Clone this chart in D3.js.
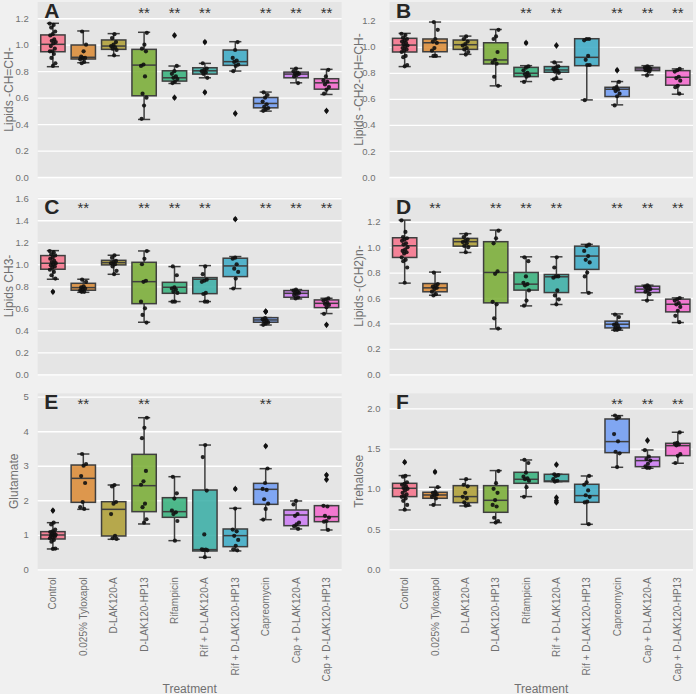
<!DOCTYPE html>
<html><head><meta charset="utf-8">
<script src="https://cdn.jsdelivr.net/npm/d3@7"></script>
<style>body{margin:0;background:#f0f0f0}svg{display:block}</style>
</head><body><svg id="c" width="696" height="694"></svg>
<script>
const categories = ["Control","0.025% Tyloxapol","D-LAK120-A","D-LAK120-HP13","Rifampicin","Rif + D-LAK120-A","Rif + D-LAK120-HP13","Capreomycin","Cap + D-LAK120-A","Cap + D-LAK120-HP13"];
const palette = ["#f77189","#dc8932","#ae9d31","#77ab31","#33b07a","#36ada4","#38a9c5","#6e9bf4","#cc7af4","#f565cc"];

// box stats per group: [whiskerLow, q1, median, q3, whiskerHigh]
const boxA = [[0.834,0.947,1.003,1.074,1.162],[0.864,0.892,0.905,0.998,1.104],[0.917,0.965,0.990,1.036,1.084],[0.435,0.614,0.846,0.965,1.094],[0.707,0.725,0.750,0.803,0.839],[0.750,0.778,0.803,0.826,0.859],[0.801,0.844,0.872,0.960,1.023],[0.498,0.523,0.556,0.601,0.642],[0.712,0.750,0.778,0.793,0.821],[0.624,0.664,0.712,0.743,0.814]];
const pointsA = [[1.16,1.15,1.13,1.10,1.08,1.07,1.04,1.03,1.02,1.01,0.99,0.97,0.95,0.95,0.93,0.90,0.86,0.84],[1.10,1.00,0.95,0.91,0.90,0.90,0.89,0.87,0.86],[1.08,1.05,1.02,1.00,0.99,0.98,0.97,0.96,0.92],[1.09,1.00,0.97,0.95,0.85,0.84,0.76,0.63,0.60,0.54,0.44],[1.07,0.84,0.80,0.78,0.76,0.75,0.74,0.72,0.71,0.60],[1.02,0.86,0.82,0.81,0.80,0.79,0.78,0.75,0.64],[1.02,0.96,0.90,0.88,0.87,0.85,0.84,0.80,0.48],[0.64,0.62,0.60,0.57,0.55,0.53,0.52,0.51,0.50],[0.82,0.80,0.79,0.78,0.78,0.77,0.76,0.71],[0.81,0.76,0.73,0.72,0.70,0.68,0.66,0.63,0.50]];
const sigA = [3,4,5,7,8,9];

const boxB = [[0.848,0.960,1.013,1.065,1.103],[0.924,0.962,1.031,1.060,1.19],[0.942,0.980,1.016,1.052,1.082],[0.70,0.868,0.899,1.031,1.133],[0.733,0.771,0.797,0.842,0.855],[0.751,0.804,0.822,0.848,0.883],[0.592,0.855,0.919,1.062,1.062],[0.554,0.618,0.674,0.689,0.733],[0.784,0.817,0.830,0.842,0.855],[0.636,0.705,0.766,0.817,0.830]];
const pointsB = [[1.10,1.09,1.07,1.06,1.05,1.04,1.03,1.02,1.01,1.00,0.99,0.98,0.97,0.96,0.93,0.92,0.86,0.85],[1.19,1.13,1.06,1.04,1.03,0.99,0.97,0.93,0.93],[1.08,1.06,1.04,1.02,1.01,0.99,0.98,0.96,0.94],[1.13,1.08,1.06,0.96,0.90,0.88,0.87,0.77,0.70],[1.03,0.85,0.84,0.82,0.80,0.79,0.78,0.77,0.73],[1.01,0.88,0.85,0.84,0.83,0.82,0.81,0.80,0.76,0.75],[1.06,1.06,1.05,0.93,0.90,0.86,0.86,0.59],[0.82,0.73,0.69,0.68,0.67,0.66,0.64,0.62,0.55],[0.85,0.84,0.84,0.83,0.83,0.82,0.82,0.81,0.78],[0.83,0.82,0.81,0.77,0.76,0.74,0.70,0.69,0.64]];
const sigB = [4,5,7,8,9];

const boxC = [[0.864,0.955,1.009,1.079,1.124],[0.745,0.764,0.788,0.827,0.864],[0.909,0.994,1.015,1.036,1.082],[0.473,0.642,0.842,1.018,1.121],[0.661,0.736,0.791,0.836,0.979],[0.661,0.733,0.864,0.879,0.988],[0.779,0.888,0.985,1.055,1.07],[0.448,0.473,0.494,0.515,0.515],[0.685,0.70,0.736,0.761,0.770],[0.552,0.606,0.645,0.676,0.691]];
const pointsC = [[1.12,1.11,1.09,1.08,1.06,1.05,1.03,1.02,1.01,1.00,0.99,0.98,0.97,0.95,0.93,0.90,0.87,0.75],[0.86,0.84,0.80,0.79,0.78,0.77,0.76,0.75,0.75],[1.08,1.06,1.03,1.02,1.01,1.00,0.98,0.94,0.91],[1.12,1.05,1.00,0.85,0.84,0.66,0.60,0.54,0.47],[0.98,0.90,0.79,0.78,0.77,0.75,0.74,0.66,0.66],[0.98,0.91,0.86,0.85,0.84,0.74,0.73,0.66,0.66],[1.41,1.06,1.05,1.00,0.96,0.93,0.87,0.78],[0.57,0.57,0.51,0.50,0.49,0.48,0.47,0.46,0.45],[0.77,0.76,0.75,0.74,0.74,0.73,0.72,0.70,0.69],[0.69,0.68,0.67,0.65,0.64,0.63,0.61,0.55,0.45]];
const sigC = [1,3,4,5,7,8,9];

const boxD = [[0.717,0.919,1.011,1.074,1.213],[0.622,0.649,0.680,0.714,0.804],[0.958,1.008,1.043,1.069,1.106],[0.357,0.562,0.801,1.043,1.134],[0.538,0.662,0.709,0.801,0.924],[0.549,0.643,0.767,0.785,0.924],[0.641,0.825,0.93,1.008,1.022],[0.347,0.365,0.394,0.418,0.475],[0.583,0.643,0.670,0.693,0.701],[0.407,0.491,0.551,0.591,0.601]];
const pointsD = [[1.21,1.12,1.08,1.07,1.06,1.05,1.03,1.02,1.00,0.98,0.97,0.96,0.95,0.92,0.90,0.89,0.84,0.72],[0.80,0.71,0.70,0.69,0.68,0.67,0.65,0.63,0.62],[1.10,1.08,1.06,1.05,1.04,1.03,1.01,1.00,0.96],[1.13,1.07,1.03,0.81,0.79,0.57,0.55,0.44,0.36],[0.92,0.89,0.77,0.72,0.71,0.70,0.66,0.58,0.54],[0.92,0.84,0.77,0.77,0.76,0.66,0.62,0.59,0.55],[1.02,1.01,0.97,0.93,0.90,0.88,0.80,0.77,0.64],[0.47,0.45,0.40,0.39,0.38,0.37,0.36,0.35,0.35],[0.70,0.69,0.69,0.68,0.67,0.66,0.65,0.63,0.58],[0.60,0.59,0.58,0.56,0.55,0.53,0.50,0.46,0.41]];
const sigD = [1,3,4,5,7,8,9];

const boxE = [[0.589,0.878,0.994,1.091,1.351],[1.737,1.94,2.635,3.021,3.34],[0.869,0.965,1.737,1.959,2.442],[1.313,1.67,2.423,3.33,4.392],[0.83,1.506,1.67,2.075,2.683],[0.347,0.531,0.57,2.297,3.6],[0.531,0.656,0.975,1.168,1.766],[1.438,1.882,2.317,2.49,2.915],[1.168,1.264,1.573,1.718,1.979],[1.139,1.38,1.525,1.844,1.844]];
const pointsE = [[1.70,1.35,1.30,1.15,1.10,1.08,1.05,1.02,1.00,0.99,0.97,0.95,0.92,0.90,0.85,0.80,0.60,0.59],[3.34,3.05,3.00,2.70,2.50,1.95,1.80,1.75],[2.44,2.40,1.95,1.90,1.60,0.97,0.90,0.88],[4.39,4.10,3.80,2.85,2.55,2.45,1.90,1.80,1.45,1.35],[2.68,2.20,2.05,1.70,1.65,1.60,1.40,0.83],[3.60,3.25,2.28,1.01,0.58,0.57,0.56,0.55,0.35],[2.33,1.76,1.15,1.10,0.97,0.85,0.68,0.58,0.55],[3.57,2.92,2.50,2.33,2.30,2.03,1.90,1.75,1.44],[1.98,1.88,1.60,1.55,1.35,1.30,1.25,1.17],[2.73,2.60,1.84,1.82,1.55,1.50,1.40,1.38,1.14]];
const sigE = [1,3,7];

const boxF = [[0.737,0.903,1.006,1.068,1.164],[0.799,0.882,0.923,0.957,1.019],[0.787,0.828,0.903,1.039,1.118],[0.58,0.708,0.857,1.039,1.226],[0.903,1.068,1.118,1.205,1.358],[1.089,1.089,1.097,1.18,1.18],[0.559,0.832,0.915,1.056,1.159],[1.267,1.449,1.586,1.867,1.909],[1.255,1.275,1.35,1.395,1.482],[1.317,1.412,1.536,1.565,1.702]];
const pointsF = [[1.33,1.16,1.15,1.08,1.06,1.05,1.03,1.01,1.00,0.98,0.95,0.93,0.91,0.90,0.88,0.85,0.80,0.74],[1.21,1.02,0.96,0.95,0.93,0.92,0.90,0.88,0.80],[1.12,1.05,1.03,0.95,0.90,0.88,0.83,0.80,0.79],[1.22,1.07,1.00,0.95,0.86,0.80,0.78,0.64,0.60,0.58],[1.36,1.32,1.20,1.15,1.13,1.12,1.10,1.02,0.90],[1.30,1.18,1.17,1.16,1.12,1.10,1.09,0.89,0.85,0.83],[1.16,1.08,1.05,0.98,0.92,0.90,0.84,0.83,0.56],[1.91,1.89,1.87,1.68,1.59,1.46,1.44,1.27],[1.60,1.48,1.40,1.37,1.35,1.31,1.28,1.26,1.26],[1.70,1.57,1.56,1.55,1.54,1.43,1.41,1.32]];
const sigF = [7,8,9];

const letters = ["A","B","C","D","E","F"];
const yLabels = ["Lipids -CH=CH-","Lipids -CH2-CH=CH-","Lipids CH3-","Lipids -(CH2)n-","Glutamate","Trehalose"];
const yMax = [1.323,1.344,1.605,1.389,5.099,2.186];
const yTicks = [[0,0.2,0.4,0.6,0.8,1.0,1.2],[0,0.2,0.4,0.6,0.8,1.0,1.2],[0,0.2,0.4,0.6,0.8,1.0,1.2,1.4,1.6],[0,0.2,0.4,0.6,0.8,1.0,1.2],[0,1,2,3,4,5],[0,0.5,1.0,1.5,2.0]];
const yFormats = [".1f",".1f",".1f",".1f","d",".1f"];
const xLabel = "Treatment";

const boxes = [boxA,boxB,boxC,boxD,boxE,boxF];
const points = [pointsA,pointsB,pointsC,pointsD,pointsE,pointsF];
const sigs = [sigA,sigB,sigC,sigD,sigE,sigF];

// layout
const colX = [[37.7,341.7],[389.5,693]];
const rowY = [[2,177],[197.7,374.3],[393.3,569.3]];
const yLabX = [8.5,358.5,8.5,359,14,359];
const tickRight = [null,375.5,null,null,null,null];

const svg = d3.select("#c");
const font = "'Liberation Sans', Arial, sans-serif";
const edge = "#3f3f3f";
const textGray = "#707070";

for (let p = 0; p < 6; p++) {
  const col = p % 2, row = Math.floor(p / 2);
  const [x0, x1] = colX[col];
  const [y0, y1] = rowY[row];
  const x = d3.scaleBand().domain(categories).range([x0, x1]).padding(0);
  const y = d3.scaleLinear().domain([0, yMax[p]]).range([y1, y0]);
  const g = svg.append("g");

  g.append("rect").attr("x", x0).attr("y", y0).attr("width", x1 - x0).attr("height", y1 - y0).attr("fill", "#e5e5e5");

  // grid
  const grid = g.append("g").attr("transform", `translate(${x0},0)`)
    .call(d3.axisLeft(y).tickValues(yTicks[p]).tickSize(-(x1 - x0)).tickFormat(""));
  grid.select(".domain").remove();
  grid.selectAll("line").attr("stroke", "#ffffff").attr("stroke-width", 1.3);

  // y axis labels
  const padL = tickRight[p] != null ? (x0 - tickRight[p]) : 9;
  const ya = g.append("g").attr("transform", `translate(${x0},0)`)
    .call(d3.axisLeft(y).tickValues(yTicks[p]).tickSize(0).tickPadding(padL).tickFormat(d3.format(yFormats[p])));
  ya.select(".domain").remove();
  ya.selectAll("text").attr("fill", textGray).style("font-family", font).style("font-size", "9.5px");

  g.append("text").attr("transform", `translate(${yLabX[p]},${(y0 + y1) / 2}) rotate(-90)`)
    .attr("text-anchor", "middle").attr("dominant-baseline", "central")
    .attr("fill", textGray).style("font-family", font).style("font-size", "12px").text(yLabels[p]);

  const bw = x.bandwidth() * 0.8;
  const tol = yMax[p] * 0.008;

  categories.forEach((c, i) => {
    const [wl, q1, md, q3, wh] = boxes[p][i];
    const cx = x(c) + x.bandwidth() / 2;
    const bg = g.append("g");
    // whiskers
    bg.append("line").attr("x1", cx).attr("x2", cx).attr("y1", y(q3)).attr("y2", y(wh)).attr("stroke", edge).attr("stroke-width", 1.5);
    bg.append("line").attr("x1", cx).attr("x2", cx).attr("y1", y(q1)).attr("y2", y(wl)).attr("stroke", edge).attr("stroke-width", 1.5);
    bg.append("line").attr("x1", cx - bw / 4).attr("x2", cx + bw / 4).attr("y1", y(wh)).attr("y2", y(wh)).attr("stroke", edge).attr("stroke-width", 1.5);
    bg.append("line").attr("x1", cx - bw / 4).attr("x2", cx + bw / 4).attr("y1", y(wl)).attr("y2", y(wl)).attr("stroke", edge).attr("stroke-width", 1.5);
    bg.append("rect").attr("x", cx - bw / 2).attr("y", y(q3)).attr("width", bw).attr("height", Math.max(0.5, y(q1) - y(q3)))
      .attr("fill", palette[i]).attr("fill-opacity", 0.85).attr("stroke", edge).attr("stroke-width", 1.5);
    bg.append("line").attr("x1", cx - bw / 2).attr("x2", cx + bw / 2).attr("y1", y(md)).attr("y2", y(md)).attr("stroke", edge).attr("stroke-width", 1.5);

    // fliers (diamonds)
    const pts = points[p][i];
    pts.forEach(v => {
      if (v > wh + tol || v < wl - tol) {
        const py = y(v);
        bg.append("path").attr("d", `M${cx},${py - 3.4}L${cx + 2.3},${py}L${cx},${py + 3.4}L${cx - 2.3},${py}Z`).attr("fill", "#1a1a1a");
      }
    });
    // strip points (deterministic jitter)
    pts.forEach((v, k) => {
      const j = (((k * 0.618034 + i * 0.31) % 1) - 0.5) * 2 * 3.2;
      const isFlier = v > wh + tol || v < wl - tol;
      bg.append("circle").attr("cx", isFlier ? cx : cx + j).attr("cy", y(v)).attr("r", 2.1).attr("fill", "#111").attr("fill-opacity", 0.9);
    });
  });

  // significance
  sigs[p].forEach(i => {
    g.append("text").attr("x", x(categories[i]) + x.bandwidth() / 2).attr("y", y0 + 15.5)
      .attr("text-anchor", "middle").attr("fill", "#333").style("font-family", font).style("font-size", "15px").text("**");
  });

  // panel letter
  g.append("text").attr("x", x0 + 6.5).attr("y", y0 + 16).attr("fill", "#262626")
    .style("font-family", font).style("font-size", "21px").style("font-weight", "bold").text(letters[p]);

  // x axis for bottom row
  if (row === 2) {
    const xa = g.append("g").attr("transform", `translate(0,${y1})`).call(d3.axisBottom(x).tickSize(0));
    xa.select(".domain").remove();
    xa.selectAll("text").attr("transform", "rotate(-90)").attr("x", -8).attr("y", 0).attr("dy", "0.35em")
      .style("text-anchor", "end").attr("fill", textGray).style("font-family", font).style("font-size", "10px");
    g.append("text").attr("x", (x0 + x1) / 2).attr("y", 692.5).attr("text-anchor", "middle")
      .attr("fill", textGray).style("font-family", font).style("font-size", "12px").text(xLabel);
  }
}
</script></body></html>
